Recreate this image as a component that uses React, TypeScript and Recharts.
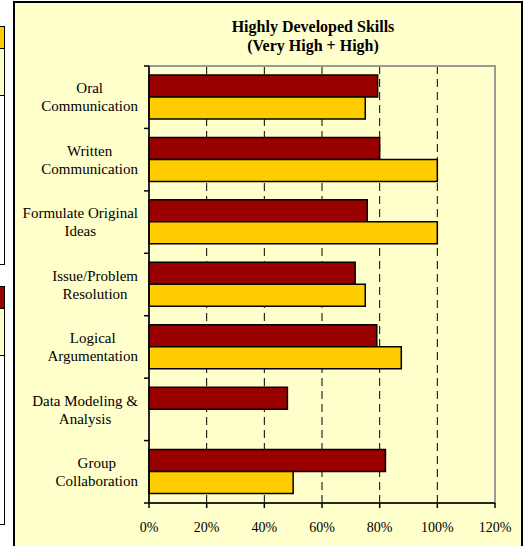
import { BarChart, Bar, XAxis, YAxis, CartesianGrid, ReferenceArea } from "recharts"

const skills = [
  "Oral\nCommunication",
  "Written\nCommunication",
  "Formulate Original\nIdeas",
  "Issue/Problem\nResolution",
  "Logical\nArgumentation",
  "Data Modeling &\nAnalysis",
  "Group\nCollaboration",
]
const seriesRed = [79.3, 80, 75.7, 71.5, 79, 48, 82]
const seriesGold = [75, 100, 100, 75, 87.5, null, 50]
const pctTicks = [0, 20, 40, 60, 80, 100, 120]

const data = skills.map((skill, i) => ({ skill, red: seriesRed[i], gold: seriesGold[i] }))

const FONT = '"Times New Roman", "Liberation Serif", serif'
const LABEL_SIZE = 15
const LINE_H = 18

const measureCtx = typeof document !== "undefined" ? document.createElement("canvas").getContext("2d") : null

function SkillTick({ x, y, payload }: any) {
  const lines = String(payload.value).split("\n")
  if (measureCtx) measureCtx.font = `${LABEL_SIZE}px "Liberation Serif"`
  const w = Math.max(...lines.map((l) => (measureCtx ? measureCtx.measureText(l).width : l.length * 7)))
  const cx = x - 11 - w / 2
  const half = payload.offset ?? 0
  const isLast = payload.value === skills[skills.length - 1]
  const firstDy = -((lines.length - 1) / 2) * LINE_H + LABEL_SIZE * 0.35
  return (
    <g>
      <line x1={x - 5} x2={x} y1={y - half} y2={y - half} stroke="#000" strokeWidth={1.5} />
      {isLast && <line x1={x - 5} x2={x} y1={y + half} y2={y + half} stroke="#000" strokeWidth={1.5} />}
      <text x={cx} y={y} textAnchor="middle" fontSize={LABEL_SIZE} fill="#000" fontFamily={FONT}>
        {lines.map((l, i) => (
          <tspan key={i} x={cx} dy={i === 0 ? firstDy : LINE_H}>
            {l}
          </tspan>
        ))}
      </text>
    </g>
  )
}

// bits of the neighbouring chart that are cut off at the left edge
function SideFragment({ top, height, swatch }: { top: number; height: number; swatch: string }) {
  return (
    <div
      style={{
        position: "absolute",
        left: -10,
        top,
        width: 15,
        height,
        border: "1.5px solid #000",
        boxSizing: "border-box",
        background: "#fff",
      }}
    >
      <div style={{ height: 21, background: swatch, borderBottom: "1.5px solid #000" }} />
      <div style={{ height: 46, background: "#FFFFCC", borderBottom: "1.5px solid #000" }} />
    </div>
  )
}

export default function App() {
  return (
    <div
      style={{
        position: "absolute",
        left: 0,
        top: 0,
        width: 524,
        height: 546,
        overflow: "hidden",
        background: "#fff",
        fontFamily: FONT,
      }}
    >
      <SideFragment top={26} height={239} swatch="#FFCC00" />
      <SideFragment top={286} height={239} swatch="#990000" />
      <div
        style={{
          position: "absolute",
          left: 13,
          top: 1,
          width: 510,
          height: 600,
          border: "2px solid #000",
          boxSizing: "border-box",
          background: "#FFFFCC",
        }}
      >
        <div
          style={{
            position: "absolute",
            left: 198,
            top: 14,
            width: 200,
            textAlign: "center",
            fontWeight: "bold",
            fontSize: 16,
            lineHeight: "19px",
            color: "#000",
          }}
        >
          Highly Developed Skills
          <br />
          (Very High + High)
        </div>
        <BarChart
          width={506}
          height={543}
          data={data}
          layout="vertical"
          margin={{ top: 63, right: 26, left: 0, bottom: 0 }}
          barGap={0}
          barSize={22}
          style={{ position: "absolute", left: 0, top: 0 }}
        >
          <CartesianGrid horizontal={false} stroke="#000" strokeDasharray="8 5" />
          <ReferenceArea x1={0} x2={120} fill="none" stroke="#999" strokeWidth={2} />
          <XAxis
            type="number"
            domain={[0, 120]}
            ticks={pctTicks}
            interval={0}
            tickFormatter={(v: number) => `${v}%`}
            axisLine={{ stroke: "#000", strokeWidth: 1.5 }}
            tickLine={{ stroke: "#000", strokeWidth: 1.5 }}
            tickSize={5}
            tickMargin={14}
            height={43}
            tick={{ fontSize: 14, fill: "#000", fontFamily: FONT }}
          />
          <YAxis
            type="category"
            dataKey="skill"
            width={134}
            interval={0}
            axisLine={{ stroke: "#000", strokeWidth: 1.5 }}
            tickLine={false}
            tickSize={0}
            tickMargin={0}
            tick={<SkillTick />}
          />
          <Bar dataKey="red" name="Series 1" fill="#990000" stroke="#000" strokeWidth={1.5} isAnimationActive={false} />
          <Bar dataKey="gold" name="Series 2" fill="#FFCC00" stroke="#000" strokeWidth={1.5} isAnimationActive={false} />
        </BarChart>
      </div>
    </div>
  )
}
